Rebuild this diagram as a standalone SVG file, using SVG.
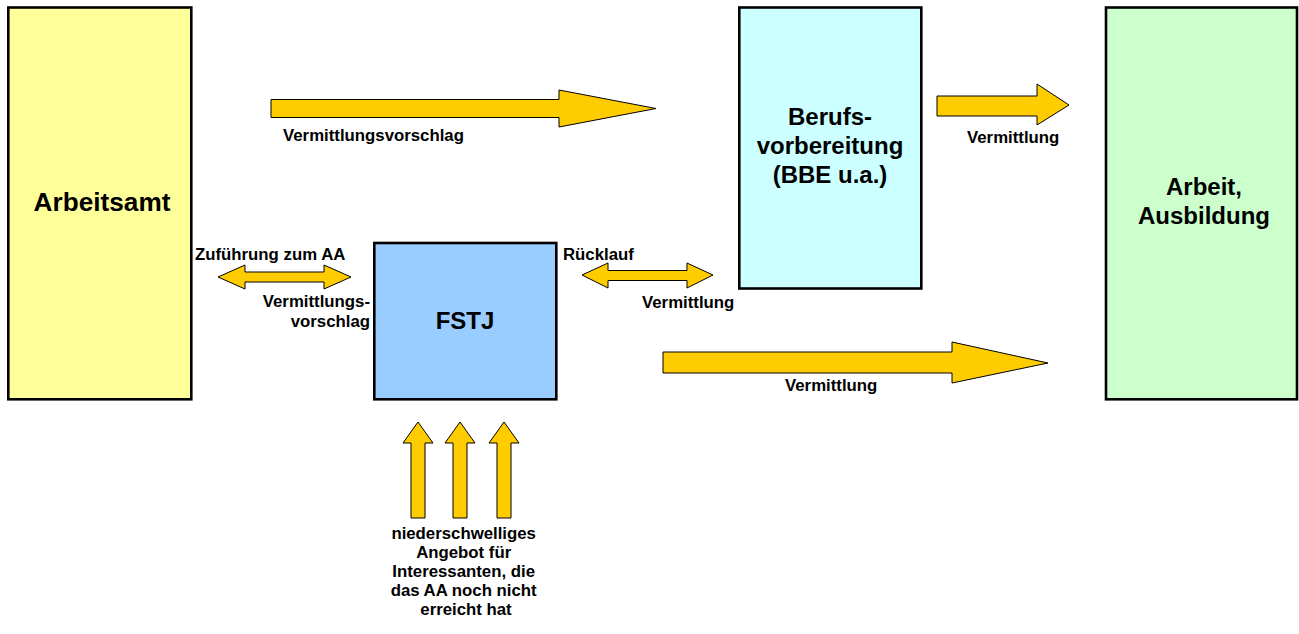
<svg xmlns="http://www.w3.org/2000/svg" width="1299" height="634" viewBox="0 0 1299 634">
<style>
.box{stroke:#000;stroke-width:2.6}
.arr{fill:#FFCC00;stroke:#000;stroke-width:1}
text{font-family:"Liberation Sans",Arial,sans-serif;font-weight:bold;fill:#000}
.big{font-size:24px}
.sm{font-size:16.8px}
</style>
<rect width="1299" height="634" fill="#fff"/>
<g id="arbeitsamt">
<rect class="box" x="8.3" y="7.5" width="183" height="391.8" fill="#FFFF99"/>
<text class="big" x="102" y="211" text-anchor="middle" style="font-size:26.2px">Arbeitsamt</text>
</g>
<g id="berufsvorbereitung">
<rect class="box" x="739.3" y="7.5" width="182" height="281" fill="#CCFFFF"/>
<text class="big" x="830" y="125" text-anchor="middle">Berufs-</text>
<text class="big" x="830" y="154" text-anchor="middle">vorbereitung</text>
<text class="big" x="830" y="183" text-anchor="middle">(BBE u.a.)</text>
</g>
<g id="arbeit">
<rect class="box" x="1106" y="7.5" width="191" height="391.8" fill="#CCFFCC"/>
<text class="big" x="1204" y="195" text-anchor="middle">Arbeit,</text>
<text class="big" x="1204" y="224" text-anchor="middle">Ausbildung</text>
</g>
<g id="fstj">
<rect class="box" x="374.3" y="243" width="182" height="156.3" fill="#99CCFF"/>
<text class="big" x="465" y="329" text-anchor="middle">FSTJ</text>
</g>
<g id="connectors">
<polygon class="arr" points="271,99.5 559,99.5 559,90 656,108.5 559,127 559,117.5 271,117.5"/>
<polygon class="arr" points="937,96 1037,96 1037,84 1069,105 1037,125 1037,116 937,116"/>
<polygon class="arr" points="663,352 952,352 952,342 1048,363 952,383 952,373 663,373"/>
<polygon class="arr" points="218,277 245,265 245,272 324,272 324,265 351,277 324,289 324,282 245,282 245,289"/>
<polygon class="arr" points="582,275 608,263 608,270.5 687,270.5 687,263 713,275 687,288 687,280.5 608,280.5 608,288"/>
<polygon class="arr" points="418,422 433,443 425,443 425,518 411,518 411,443 403,443"/>
<polygon class="arr" points="460,422 475,443 467,443 467,518 453,518 453,443 445,443"/>
<polygon class="arr" points="504,422 519,443 511,443 511,518 497,518 497,443 489,443"/>
</g>
<g id="labels">
<text class="sm" x="283" y="141">Vermittlungsvorschlag</text>
<text class="sm" x="967" y="143">Vermittlung</text>
<text class="sm" x="785" y="391">Vermittlung</text>
<text class="sm" x="195" y="260">Zuführung zum AA</text>
<text class="sm" x="370" y="307" text-anchor="end">Vermittlungs-</text>
<text class="sm" x="370" y="327" text-anchor="end">vorschlag</text>
<text class="sm" x="563" y="260">Rücklauf</text>
<text class="sm" x="642" y="308">Vermittlung</text>
<text class="sm" text-anchor="middle">
<tspan x="466" y="539">niederschwelliges</tspan>
<tspan x="466" y="558">Angebot für</tspan>
<tspan x="466" y="577">Interessanten, die</tspan>
<tspan x="466" y="596">das AA noch nicht</tspan>
<tspan x="466" y="615">erreicht hat</tspan>
</text>
</g>
</svg>
